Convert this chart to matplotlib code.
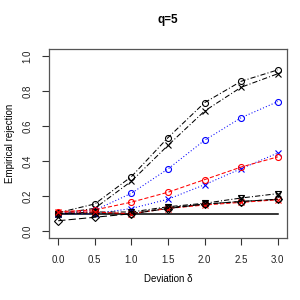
import numpy as np
import matplotlib
matplotlib.use("Agg")
import matplotlib.pyplot as plt

plt.rcParams['font.family'] = ['Liberation Sans', 'DejaVu Sans']

delta = [0.0, 0.5, 1.0, 1.5, 2.0, 2.5, 3.0]

# upper group
blk_circ = [0.106, 0.156, 0.312, 0.535, 0.735, 0.857, 0.922]
blk_x = [0.100, 0.131, 0.286, 0.491, 0.687, 0.823, 0.900]
blu_circ = [0.100, 0.120, 0.217, 0.356, 0.520, 0.649, 0.741]
blu_x = [0.100, 0.100, 0.130, 0.183, 0.266, 0.358, 0.447]
red_circ = [0.112, 0.122, 0.166, 0.223, 0.295, 0.367, 0.425]
# lower group
blk_tri = [0.100, 0.110, 0.110, 0.140, 0.160, 0.190, 0.215]
red_low = [0.110, 0.110, 0.100, 0.130, 0.150, 0.165, 0.180]
blk_low = [0.100, 0.105, 0.100, 0.135, 0.155, 0.170, 0.182]
blk_dia = [0.060, 0.080, 0.100, 0.130, 0.155, 0.170, 0.183]
nominal = 0.1

fig = plt.figure(figsize=(3, 3), dpi=100)
ax = fig.add_axes([0.163, 0.207, 0.794, 0.63])

ms = 4.3
mk = dict(markerfacecolor='none', markersize=ms, markeredgewidth=0.8, linewidth=0.75)

ax.plot([0, 3], [nominal, nominal], color='black', linewidth=1.1)

ax.plot(delta, blk_circ, color='black', linestyle=(0, (5, 2, 1, 2)), marker='o', **mk)
ax.plot(delta, blk_x, color='black', linestyle=(0, (5, 2, 1, 2)), marker='x', **mk)
ax.plot(delta, blu_circ, color='blue', linestyle=(0, (1, 2)), marker='o', **mk)
ax.plot(delta, blu_x, color='blue', linestyle=(0, (1, 2)), marker='x', **mk)
ax.plot(delta, red_circ, color='red', linestyle=(0, (4, 2)), marker='o', **mk)

ax.plot(delta, blk_tri, color='black', linestyle=(0, (5, 2, 1, 2)), marker='v', **mk)
ax.plot(delta, blk_tri, color='black', linestyle='none', marker='x', markersize=ms, markeredgewidth=0.8)
ax.plot(delta, blk_low, color='black', linestyle=(0, (4, 2)), marker='o', **mk)
ax.plot(delta, red_low, color='red', linestyle=(0, (4, 2)), marker='x', **mk)
ax.plot(delta, blk_dia, color='black', linestyle=(0, (7, 3)), marker='D', markerfacecolor='none',
        markersize=3.6, markeredgewidth=0.8, linewidth=0.75)

ax.set_xlim(-0.127, 3.127)
ax.set_ylim(-0.038, 1.042)
ax.set_xticks(delta)
ax.set_xticklabels(['0.0', '0.5', '1.0', '1.5', '2.0', '2.5', '3.0'])
ax.set_yticks([0.0, 0.2, 0.4, 0.6, 0.8, 1.0])
ax.set_yticklabels(['0.0', '0.2', '0.4', '0.6', '0.8', '1.0'], rotation=90, va='center')
ax.tick_params(direction='out', length=5, width=0.8, labelsize=7, pad=7, colors='#333333',
               labelcolor='#222222')
for s in ax.spines.values():
    s.set_color('#555555')
    s.set_linewidth(0.9)

ax.set_title('q=5', fontsize=8.5, fontweight='bold', pad=19)
ax.set_xlabel('Deviation δ', fontsize=7, labelpad=7)
ax.set_ylabel('Empirical rejection', fontsize=7, labelpad=5)

fig.savefig('out.png', dpi=100)
